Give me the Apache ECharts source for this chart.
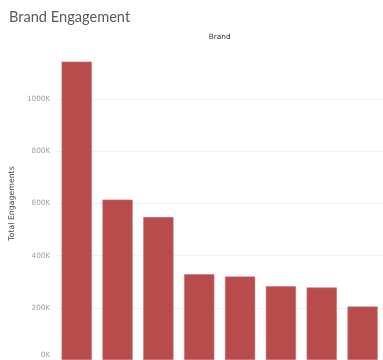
<!DOCTYPE html>
<html>
<head>
<meta charset="utf-8">
<script src="https://cdn.jsdelivr.net/npm/echarts@6/dist/echarts.min.js"></script>
<style>
  html, body { margin: 0; padding: 0; background: #fff; }
  #chart { width: 383px; height: 360px; }
</style>
</head>
<body>
<div id="chart"></div>
<script>
// Brands in descending order of total engagements (values in thousands)
const brands = ['Brand A', 'Brand B', 'Brand C', 'Brand D', 'Brand E', 'Brand F', 'Brand G', 'Brand H'];
const engagementsK = [1144, 615, 548, 329, 320, 283, 278, 205];
const yTicksK = [0, 200, 400, 600, 800, 1000];

const chart = echarts.init(document.getElementById('chart'));

chart.setOption({
  animation: false,
  title: {
    text: 'Brand Engagement',
    left: 4,
    top: 5,
    textStyle: { fontFamily: 'Lato', fontSize: 14.6, fontWeight: 'normal', color: '#5a5a5a' }
  },
  // plot area runs slightly past the right and bottom edges of the canvas
  grid: { left: 56.3, width: 329.5, top: 47, height: 315.5, containLabel: false },
  xAxis: {
    type: 'category',
    data: brands,
    position: 'top',
    name: 'Brand',
    nameLocation: 'middle',
    nameGap: 6,
    nameTextStyle: { fontFamily: 'DejaVu Sans', fontSize: 7.3, color: '#333' },
    axisLine: { show: false },
    axisTick: { show: false },
    axisLabel: { show: false }
  },
  yAxis: {
    type: 'value',
    min: 0,
    max: 1200,
    interval: 200,
    name: 'Total Engagements',
    nameLocation: 'middle',
    nameGap: 35,
    nameTextStyle: { fontFamily: 'DejaVu Sans', fontSize: 7.8, color: '#444' },
    axisLine: { show: false },
    axisTick: { show: false },
    splitLine: { show: true, showMaxLine: false, lineStyle: { color: '#f2f2f2', width: 1 } },
    axisLabel: {
      margin: 6,
      fontFamily: 'DejaVu Sans',
      fontSize: 7.3,
      color: '#a0a0a0',
      showMaxLabel: false,
      formatter: function (v) {
        if (yTicksK.indexOf(v) < 0) return '';
        // keep the baseline label inside the drawing area
        return v === 0 ? '{base|0K}' : v + 'K';
      },
      rich: {
        base: { fontFamily: 'DejaVu Sans', fontSize: 7.3, color: '#a0a0a0', padding: [0, 0, 10, 0] }
      }
    }
  },
  series: [{
    type: 'bar',
    data: engagementsK,
    barCategoryGap: '26%',
    itemStyle: { color: '#b84c4d', borderColor: '#c77172', borderWidth: 0.6 }
  }]
});
</script>
</body>
</html>
